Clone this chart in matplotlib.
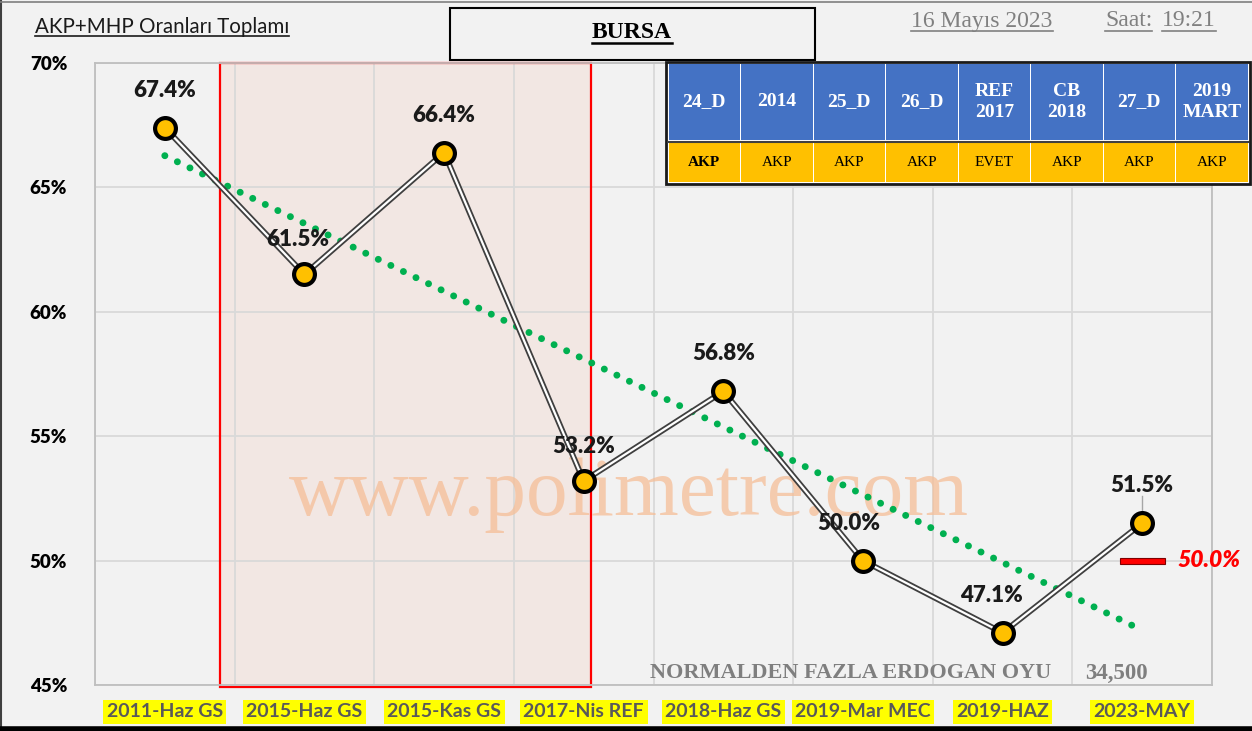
import matplotlib
matplotlib.use('Agg')
import matplotlib.pyplot as plt
from matplotlib.patches import Rectangle
import numpy as np

# ---------------- data ----------------
categories = ['2011-Haz GS', '2015-Haz GS', '2015-Kas GS', '2017-Nis REF',
              '2018-Haz GS', '2019-Mar MEC', '2019-HAZ', '2023-MAY']
values = [67.4, 61.5, 66.4, 53.2, 56.8, 50.0, 47.1, 51.5]
target_value = 50.0
yticks = [45, 50, 55, 60, 65, 70]
table_headers = ['24_D', '2014', '25_D', '26_D', 'REF\n2017', 'CB\n2018', '27_D', '2019\nMART']
table_values = ['AKP', 'AKP', 'AKP', 'AKP', 'EVET', 'AKP', 'AKP', 'AKP']
title = 'AKP+MHP Oranları Toplamı'
city = 'BURSA'
date_text = '16 Mayıs 2023'
time_label = 'Saat:'
time_text = '19:21'
note_text = 'NORMALDEN FAZLA ERDOGAN OYU'
note_value = '34,500'
watermark = 'www.polimetre.com'

# label offsets (points) – styling only
label_dx = [0, -5, 0, 0, 0, -10, -8, 0]
label_dy = [27, 25, 27, 25, 27, 27, 27, 27]

SANS = ['Lato', 'DejaVu Sans']
SERIF = ['Liberation Serif', 'DejaVu Serif']

W, H = 1252, 731
BG = '#F2F2F2'
fig = plt.figure(figsize=(W / 100, H / 100), dpi=100, facecolor=BG)

ax = fig.add_axes([95 / W, 1 - 685 / H, (1212 - 95) / W, (685 - 63) / H])
ax.set_facecolor(BG)
x = np.arange(len(categories))
ax.set_xlim(-0.5, len(categories) - 0.5)
ax.set_ylim(45, 70)
ax.set_yticks(yticks)
ax.set_yticklabels([f'{v}%' for v in yticks], fontfamily=SANS, fontweight='heavy',
                   fontsize=13.5, color='black')
ax.set_xticks(x)
ax.set_xticklabels(categories, fontfamily=SANS, fontweight='bold', fontsize=14,
                   color='#595959')
for t in ax.get_xticklabels():
    t.set_bbox(dict(facecolor='#FFFF00', edgecolor='none', pad=2.5))
ax.set_xticks(np.arange(-0.5, len(categories), 1), minor=True)
ax.set_axisbelow(True)
ax.grid(axis='y', which='major', color='#D9D9D9', lw=1.3)
ax.grid(axis='x', which='minor', color='#D9D9D9', lw=1.3)
ax.tick_params(which='both', length=0)
ax.tick_params(axis='y', pad=20)
ax.tick_params(axis='x', pad=13)
for s in ax.spines.values():
    s.set_color('#BFBFBF')
    s.set_linewidth(1.3)

# highlighted region (red box)
ax.add_patch(Rectangle((0.395, 44.92), 3.053 - 0.395, 70 - 44.92, facecolor='#F2E6E2',
                       edgecolor='none', zorder=0.2, clip_on=False, alpha=0.9))
ax.add_patch(Rectangle((0.395, 44.92), 3.053 - 0.395, 70 - 44.92, facecolor='none',
                       edgecolor='#FF0000', lw=1.6, zorder=2, clip_on=False))

# watermark
ax.text(0.478, 0.305, watermark, transform=ax.transAxes, ha='center', va='center',
        fontsize=60, fontfamily=SERIF, color='#F5BE98', alpha=0.75, zorder=1.5)

# trend line
coef = np.polyfit(x, values, 1)
trend = np.polyval(coef, x)
ax.plot(x, trend, color='#00B050', lw=5, linestyle=(0, (0.01, 2.0)),
        dash_capstyle='round', zorder=2.5)

# main line (double line look)
ax.plot(x, values, color='#3F3F3F', lw=4.2, zorder=3, solid_capstyle='round')
ax.plot(x, values, color='white', lw=1.6, zorder=3.1)
ax.plot(x, values, 'o', ms=15, mfc='#FFC000', mec='black', mew=3, zorder=4)

# data labels
for i, v in enumerate(values):
    ax.annotate(f'{v:.1f}%', (x[i], v), xytext=(label_dx[i], label_dy[i]),
                textcoords='offset points', ha='center', va='center',
                fontfamily=SANS, fontweight='heavy', fontsize=16, color='#1a1a1a', zorder=5)
# leader line for last label
ax.plot([x[-1], x[-1]], [values[-1] + 0.5, values[-1] + 1.1], color='#A6A6A6', lw=1, zorder=3.5)

# target marker
ax.add_patch(Rectangle((x[-1] - 0.16, target_value - 0.12), 0.32, 0.24, facecolor='#FF0000',
                       edgecolor='#7F0000', lw=0.8, zorder=4))
ax.annotate(f'{target_value:.1f}%', (x[-1] + 0.16, target_value), xytext=(9, 0),
            textcoords='offset points', ha='left', va='center', fontfamily=SANS,
            fontweight='heavy', fontstyle='italic', fontsize=16.5, color='#FF0000', zorder=5)

# ---------------- overlay for decorations (pixel coords) ----------------
ov = fig.add_axes([0, 0, 1, 1], zorder=10)
ov.set_xlim(0, W)
ov.set_ylim(H, 0)
ov.axis('off')
ov.patch.set_visible(False)

ov.text(650, 673, note_text, ha='left', va='center', fontfamily=SERIF, fontweight='bold',
        fontsize=16, color='#7F7F7F')
ov.text(1085, 673, note_value, ha='left', va='center', fontfamily=SERIF, fontweight='bold',
        fontsize=16.5, color='#7F7F7F')

# figure border
ov.plot([1, 1], [0, H], color='#404040', lw=1.5)
ov.plot([0, W], [1.5, 1.5], color='#7F7F7F', lw=1.2)
ov.plot([0, W], [729, 729], color='black', lw=4)

texts_to_underline = []
t = ov.text(35, 27, title, ha='left', va='center', fontfamily=SANS, fontsize=14.8, color='#1a1a1a')
texts_to_underline.append((t, '#1a1a1a', 1.2))

# city box
ov.add_patch(Rectangle((450, 8), 365, 52, facecolor='none', edgecolor='black', lw=1.5))
t = ov.text(632, 33, city, ha='center', va='center', fontfamily=SERIF, fontweight='bold',
            fontsize=17, color='black')
texts_to_underline.append((t, 'black', 1.8))

t = ov.text(982, 21, date_text, ha='center', va='center', fontfamily=SERIF, fontsize=17,
            color='#808080')
texts_to_underline.append((t, '#808080', 1.2))
t = ov.text(1105, 21, time_label, ha='left', va='center', fontfamily=SERIF, fontsize=17,
            color='#808080')
texts_to_underline.append((t, '#808080', 1.2))
t = ov.text(1162, 21, time_text, ha='left', va='center', fontfamily=SERIF, fontsize=17,
            color='#808080')
texts_to_underline.append((t, '#808080', 1.2))

# table
tx0, ty0, tx1, ty1 = 666, 62, 1250, 184
ov.add_patch(Rectangle((tx0, ty0), tx1 - tx0, ty1 - ty0, facecolor='white',
                       edgecolor='#1a1a1a', lw=2, zorder=1))
ncol = len(table_headers)
cw = (tx1 - tx0 - 4) / ncol
for i in range(ncol):
    cx = tx0 + 2 + i * cw
    ov.add_patch(Rectangle((cx + 0.5, 64), cw - 1, 76, facecolor='#4472C4',
                           edgecolor='none', zorder=2))
    ov.add_patch(Rectangle((cx + 0.5, 143), cw - 1, 39, facecolor='#FFC000',
                           edgecolor='none', zorder=2))
    ov.text(cx + cw / 2, 102, table_headers[i], ha='center', va='center',
            fontfamily=SERIF, fontweight='bold', fontsize=14, color='white',
            linespacing=1.35, zorder=3)
    ov.text(cx + cw / 2, 163, table_values[i], ha='center', va='center',
            fontfamily=SERIF, fontweight='bold' if i == 0 else 'normal',
            fontsize=11, color='black', zorder=3)
ov.plot([tx0 + 2, tx1 - 2], [141.5, 141.5], color='#404040', lw=1.5, zorder=3)

# underlines
fig.canvas.draw()
r = fig.canvas.get_renderer()
inv = ov.transData.inverted()
for t, c, lw in texts_to_underline:
    bb = t.get_window_extent(renderer=r)
    (x0, y0) = inv.transform((bb.x0, bb.y0))
    (x1, _) = inv.transform((bb.x1, bb.y0))
    ov.plot([x0, x1], [y0 - 1, y0 - 1], color=c, lw=lw)

fig.savefig('out.png', dpi=100, facecolor=BG)
